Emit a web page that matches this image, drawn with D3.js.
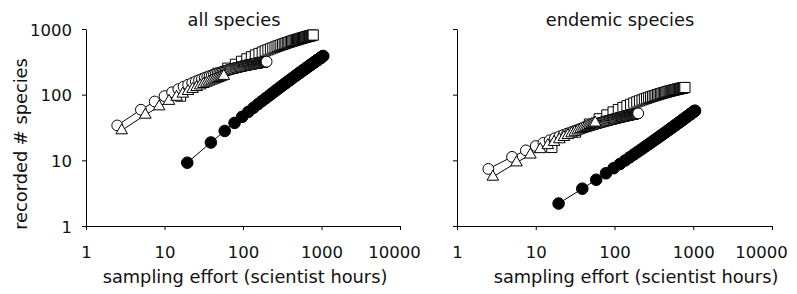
<!DOCTYPE html>
<html>
<head>
<meta charset="utf-8">
<script src="https://cdn.jsdelivr.net/npm/d3@7"></script>
<style>
  body { margin: 0; background: #fff; }
  svg { display: block; }
  text { font-family: "DejaVu Sans", Verdana, sans-serif; fill: #111; }
</style>
</head>
<body>
<div id="viz"></div>
<script>
// sampling effort (scientist hours) for each series
const circleX = [2.5,5,7.5,10,12.5,15,17.5,20,22.5,25,27.5,30,32.5,35,37.5,40,42.5,45,47.5,50,
  52.5,55,57.5,60,62.5,65,67.5,70,72.5,75,77.5,80,82.5,85,87.5,90,92.5,95,97.5,100,
  102.5,105,107.5,110,112.5,115,117.5,120,122.5,125,127.5,130,132.5,135,137.5,140,142.5,145,147.5,150,
  152.5,155,157.5,160,162.5,165,167.5,170,172.5,175,177.5,180,182.5,185,187.5,190,192.5,195,197.5,200];
const triangleX = [2.85,5.7,8.55,11.4,14.25,17.1,19.95,22.8,25.65,28.5,31.35,34.2,37.05,39.9,42.75,45.6,48.45,51.3,54.15,57];
const squareX = [16,32,48,64,80,96,112,128,144,160,176,192,208,224,240,256,272,288,304,320,
  336,352,368,384,400,416,432,448,464,480,496,512,528,544,560,576,592,608,624,640,
  656,672,688,704,720,736,752,768,784];
const filledX = [19.5,39,58.5,78,97.5,117,136.5,156,175.5,195,214.5,234,253.5,273,292.5,312,331.5,351,370.5,390,
  409.5,429,448.5,468,487.5,507,526.5,546,565.5,585,604.5,624,643.5,663,682.5,702,721.5,741,760.5,780,
  799.5,819,838.5,858,877.5,897,916.5,936,955.5,975,994.5,1014,1033.5,1053];

// recorded # species, all species
const allCircles = [34,59.0,78.7,95.0,109.0,121.3,132.3,142.1,151.1,159.3,166.8,173.8,180.3,186.3,192.0,197.4,202.4,207.2,211.7,216.0,
  220.0,223.9,227.6,231.1,234.5,237.7,240.8,243.8,246.6,249.4,252.0,254.6,257.0,259.4,261.7,263.9,266.0,268.0,270.0,272.0,
  273.8,275.6,277.4,279.1,280.8,282.4,283.9,285.4,286.9,288.3,289.7,291.1,292.4,293.7,294.9,296.1,297.3,298.5,299.6,300.7,
  301.8,302.8,303.8,304.9,305.8,306.8,307.7,308.6,309.5,310.4,311.2,312.0,312.8,313.6,314.4,315.1,315.9,316.6,317.3,318.0];
const allTriangles = [28.5,49.3,66.0,80.0,92.3,103.1,112.9,121.7,129.9,137.5,144.5,151.0,157.2,163.0,168.4,173.6,178.6,183.3,187.7,192.0];
const allSquares = [95,160,211,253,290,322,351,378,402,424,445,464,482,499,515,530,545,559,572,584,
  596,608,619,629,640,649,659,668,677,686,694,702,710,717,725,732,739,745,752,759,
  765,771,777,782,788,794,799,804,809];
const allFilled = [9.2,18.7,28.0,37.1,46.0,54.7,63.3,71.8,80.1,88.3,96.3,104.3,112.2,120.1,127.7,135.4,143.0,150.4,157.9,165.2,
  172.5,179.7,186.9,193.9,201.0,208.0,215.0,221.9,228.7,235.5,242.3,249.0,255.7,262.4,269.0,275.5,282.1,288.5,295.0,301.4,
  307.7,314.1,320.4,326.7,332.9,339.2,345.4,351.6,357.7,363.9,369.9,376.0,382.0,388.1];

// recorded # species, endemic species
const endCircles = [7.4,11.29,14.17,16.50,18.48,20.20,21.74,23.11,24.37,25.52,26.59,27.59,28.52,29.39,30.22,31.00,31.74,32.45,33.12,33.77,
  34.39,34.98,35.55,36.09,36.62,37.13,37.62,38.09,38.55,39.00,39.43,39.85,40.25,40.65,41.03,41.41,41.77,42.13,42.47,42.81,
  43.14,43.46,43.77,44.08,44.38,44.67,44.96,45.24,45.52,45.79,46.05,46.31,46.56,46.81,47.06,47.30,47.53,47.76,47.99,48.21,
  48.43,48.65,48.86,49.07,49.27,49.47,49.67,49.87,50.06,50.25,50.43,50.62,50.80,50.97,51.15,51.32,51.50,51.66,51.83,51.99];
const endTriangles = [5.6,9.25,12.18,14.71,16.94,18.96,20.81,22.53,24.13,25.64,27.07,28.43,29.71,30.95,32.13,33.26,34.36,35.41,36.43,37.41];
const endSquares = [15.7,26.9,35.6,42.9,49.1,54.5,59.4,63.7,67.7,71.3,74.6,77.7,80.6,83.3,85.9,88.2,90.5,92.6,94.6,96.5,
  98.4,100.1,101.8,103.3,104.9,106.3,107.7,109.1,110.3,111.6,112.8,113.9,115.0,116.1,117.1,118.1,119.1,120.0,120.9,121.8,
  122.7,123.5,124.3,125.1,125.9,126.6,127.4,128.1,128.7];
const endFilled = [2.20,3.70,5.06,6.35,7.59,8.78,9.95,11.10,12.23,13.34,14.43,15.52,16.60,17.66,18.72,19.77,20.82,21.85,22.88,23.91,
  24.93,25.94,26.95,27.96,28.96,29.96,30.95,31.95,32.94,33.93,34.91,35.89,36.87,37.85,38.82,39.80,40.77,41.74,42.70,43.66,
  44.62,45.58,46.54,47.50,48.46,49.41,50.36,51.31,52.26,53.21,54.16,55.11,56.06,57.00];

const xTicks = [1, 10, 100, 1000, 10000];
const yTicks = [1, 10, 100, 1000];

const width = 797, height = 294;
const FONT = 17.8, TICK_FONT = 16.5;

const svg = d3.select("#viz").append("svg")
  .attr("width", width)
  .attr("height", height);

const y = d3.scaleLog().domain([1, 1000]).range([226, 29]);

// Draw a single panel
function drawPanel(opts) {
  const x = d3.scaleLog().domain([1, 10000]).range(opts.xRange);
  const g = svg.append("g");

  // axes
  const xAxis = g.append("g")
    .attr("transform", `translate(0,${y(1)})`)
    .call(d3.axisBottom(x).tickValues(xTicks).tickSize(4).tickSizeOuter(0).tickFormat(d3.format("d")));
  xAxis.selectAll("text")
    .attr("y", 32).attr("dy", 0)
    .attr("dx", d => d === 10000 ? opts.lastShift : 0)
    .style("font-size", TICK_FONT + "px");

  const yAxis = g.append("g")
    .attr("transform", `translate(${opts.xRange[0]},0)`)
    .call(d3.axisLeft(y).tickValues(yTicks).tickSize(4).tickSizeOuter(0)
      .tickFormat(opts.yLabels ? d3.format("d") : () => ""));
  yAxis.selectAll("text")
    .attr("x", -14).attr("dy", "0.38em")
    .style("font-size", TICK_FONT + "px");

  g.selectAll(".domain, .tick line").attr("stroke", "#000");
  g.selectAll(".tick text").attr("fill", "#111").attr("font-family", null);
  g.selectAll("g").attr("font-family", null).attr("font-size", null);

  const line = d3.line().x(d => x(d[0])).y(d => y(d[1]));

  const series = [
    { xs: squareX, ys: opts.squares, type: d3.symbolSquare, size: 104, fill: "#fff" },
    { xs: circleX, ys: opts.circles, type: d3.symbolCircle, size: Math.PI * 5.4 * 5.4, fill: "#fff" },
    { xs: triangleX, ys: opts.triangles, type: d3.symbolTriangle, size: 58, fill: "#fff" },
    { xs: filledX, ys: opts.filled, type: d3.symbolCircle, size: Math.PI * 5.8 * 5.8, fill: "#000" }
  ];

  series.forEach(s => {
    const pts = s.xs.map((v, i) => [v, s.ys[i]]);
    g.append("path")
      .datum(pts)
      .attr("fill", "none")
      .attr("stroke", "#000")
      .attr("stroke-width", 1)
      .attr("d", line);

    g.append("g").selectAll("path")
      .data(pts)
      .join("path")
      .attr("transform", d => `translate(${x(d[0])},${y(d[1])})`)
      .attr("d", d3.symbol().type(s.type).size(s.size))
      .attr("fill", s.fill)
      .attr("stroke", "#000")
      .attr("stroke-width", 1);
  });

  // panel title
  g.append("text")
    .attr("x", opts.titleX)
    .attr("y", 26)
    .attr("text-anchor", "middle")
    .style("font-size", FONT + "px")
    .text(opts.title);

  // x axis title
  g.append("text")
    .attr("x", opts.xTitleX)
    .attr("y", 283)
    .attr("text-anchor", "middle")
    .style("font-size", FONT + "px")
    .text("sampling effort (scientist hours)");
}

drawPanel({
  xRange: [86, 400],
  yLabels: true,
  lastShift: -6,
  title: "all species",
  titleX: 234,
  xTitleX: 245,
  circles: allCircles,
  triangles: allTriangles,
  squares: allSquares,
  filled: allFilled
});

drawPanel({
  xRange: [457, 772],
  yLabels: false,
  lastShift: -11,
  title: "endemic species",
  titleX: 620,
  xTitleX: 636,
  circles: endCircles,
  triangles: endTriangles,
  squares: endSquares,
  filled: endFilled
});

// y axis title
svg.append("text")
  .attr("transform", "translate(27,144) rotate(-90)")
  .attr("text-anchor", "middle")
  .style("font-size", FONT + "px")
  .text("recorded # species");
</script>
</body>
</html>
